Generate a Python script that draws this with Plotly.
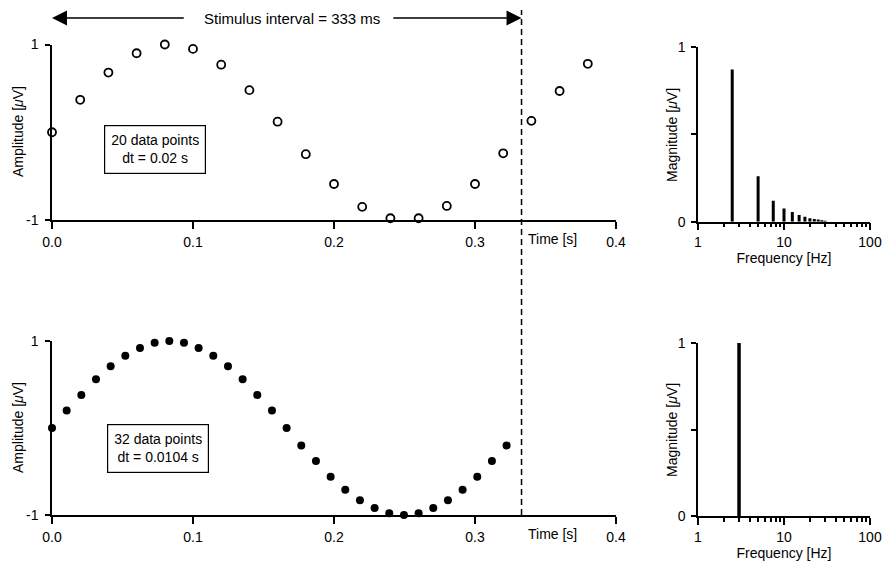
import plotly.graph_objects as go

# ---------------- data ----------------
t20 = [0.00, 0.02, 0.04, 0.06, 0.08, 0.10, 0.12, 0.14, 0.16, 0.18,
       0.20, 0.22, 0.24, 0.26, 0.28, 0.30, 0.32, 0.34, 0.36, 0.38]
amp20 = [0.00, 0.37, 0.68, 0.90, 1.00, 0.95, 0.77, 0.48, 0.12, -0.25,
         -0.59, -0.85, -0.98, -0.98, -0.84, -0.59, -0.24, 0.13, 0.47, 0.78]

t32 = [0.0, 0.0104, 0.0208, 0.0312, 0.0416, 0.052, 0.0624, 0.0728,
       0.0832, 0.0936, 0.104, 0.1144, 0.1248, 0.1352, 0.1456, 0.156,
       0.1664, 0.1768, 0.1872, 0.1976, 0.208, 0.2184, 0.2288, 0.2392,
       0.2496, 0.26, 0.2704, 0.2808, 0.2912, 0.3016, 0.312, 0.3224]
amp32 = [0.0, 0.2, 0.38, 0.56, 0.71, 0.83, 0.92, 0.98,
         1.0, 0.98, 0.92, 0.83, 0.71, 0.56, 0.38, 0.2,
         0.0, -0.2, -0.38, -0.56, -0.71, -0.83, -0.92, -0.98,
         -1.0, -0.98, -0.92, -0.83, -0.71, -0.56, -0.38, -0.2]

freq20 = [2.5, 5.0, 7.5, 10.0, 12.5, 15.0, 17.5, 20.0, 22.5, 25.0, 27.5, 30.0]
mag20 = [0.87, 0.26, 0.12, 0.075, 0.055, 0.038, 0.028, 0.02, 0.015, 0.012, 0.008, 0.006]

freq32 = [3.0]
mag32 = [1.0]

stimulus_interval = 0.333
time_ticks = [0.0, 0.1, 0.2, 0.3, 0.4]
time_ticklabels = ["0.0", "0.1", "0.2", "0.3", "0.4"]
freq_ticks = [1, 10, 100]
freq_minor = [2, 3, 4, 5, 6, 7, 8, 9, 20, 30, 40, 50, 60, 70, 80, 90]

# ---------------- geometry helpers ----------------
W, H = 885, 563
def fx(p):
    return p / W
def fy(p):
    return 1 - p / H

FONT = "Liberation Sans, Arial, Helvetica, sans-serif"
BLACK = "#000000"
FS = 14


def stems(freqs, mags):
    xs, ys = [], []
    for f, m in zip(freqs, mags):
        xs += [f, f, None]
        ys += [0, m, None]
    return xs, ys


fig = go.Figure()

fig.add_trace(go.Scatter(
    x=t20, y=amp20, mode="markers", xaxis="x", yaxis="y",
    marker=dict(symbol="circle-open", size=8, color=BLACK, line=dict(width=1.8, color=BLACK)),
    cliponaxis=False, showlegend=False, hoverinfo="skip"))

fig.add_trace(go.Scatter(
    x=t32, y=amp32, mode="markers", xaxis="x3", yaxis="y3",
    marker=dict(symbol="circle", size=8, color=BLACK),
    cliponaxis=False, showlegend=False, hoverinfo="skip"))

sx, sy = stems(freq20, mag20)
fig.add_trace(go.Scatter(
    x=sx, y=sy, mode="lines", xaxis="x2", yaxis="y2",
    line=dict(color=BLACK, width=3), cliponaxis=False, showlegend=False, hoverinfo="skip"))

sx, sy = stems(freq32, mag32)
fig.add_trace(go.Scatter(
    x=sx, y=sy, mode="lines", xaxis="x4", yaxis="y4",
    line=dict(color=BLACK, width=3.5), cliponaxis=False, showlegend=False, hoverinfo="skip"))

tickfont = dict(family=FONT, size=FS, color=BLACK)

common = dict(showline=True, linecolor=BLACK, linewidth=1.5, showgrid=False,
              zeroline=False, automargin=False, tickfont=tickfont, tickcolor=BLACK,
              tickwidth=1.5, ticks="outside")

time_axis = dict(range=[0, 0.4], tickvals=time_ticks, ticktext=time_ticklabels,
                 ticklen=7, ticklabelstandoff=1, **common)
amp_axis = dict(range=[-1, 1], tickvals=[-1, 1], ticktext=["-1", "1"],
                ticklen=5, ticklabelstandoff=4, **common)
freq_axis = dict(
    type="log", range=[0, 2], tickvals=freq_ticks, ticktext=["1", "10", "100"],
    ticklen=7,
    minor=dict(tickvals=freq_minor, ticks="outside", ticklen=4, tickwidth=1.5, tickcolor=BLACK, showgrid=False),
    title=dict(text="Frequency [Hz]", font=dict(family=FONT, size=FS, color=BLACK), standoff=0),
    **common)
mag_axis = dict(range=[0, 1], tickvals=[0, 0.5, 1], ticktext=["0", "", "1"],
                ticklen=5, ticklabelstandoff=3, **common)

fig.update_layout(
    width=W, height=H,
    margin=dict(l=0, r=0, t=0, b=0),
    paper_bgcolor="white", plot_bgcolor="white",
    font=dict(family=FONT, size=FS, color=BLACK),
    showlegend=False,
    xaxis=dict(domain=[fx(52), fx(616)], anchor="y", **time_axis),
    yaxis=dict(domain=[fy(220), fy(44.5)], anchor="x", **amp_axis),
    xaxis3=dict(domain=[fx(52), fx(616)], anchor="y3", **time_axis),
    yaxis3=dict(domain=[fy(515), fy(341)], anchor="x3", **amp_axis),
    xaxis2=dict(domain=[fx(698), fx(870)], anchor="y2", **freq_axis),
    yaxis2=dict(domain=[fy(221.7), fy(46.7)], anchor="x2", **mag_axis),
    xaxis4=dict(domain=[fx(698), fx(870)], anchor="y4", **freq_axis),
    yaxis4=dict(domain=[fy(516), fy(343)], anchor="x4", **mag_axis),
)

fig.add_shape(type="line", xref="x", yref="paper",
              x0=stimulus_interval, x1=stimulus_interval, y0=fy(515), y1=fy(10),
              line=dict(color=BLACK, width=1.5, dash="6px,4px"))

annos = []
ARROW_Y = fy(18)
annos.append(dict(x=0.170, y=ARROW_Y, xref="x", yref="paper", text="Stimulus interval = 333 ms",
                  showarrow=False, font=dict(family=FONT, size=15, color=BLACK),
                  xanchor="center", yanchor="middle"))
annos.append(dict(x=0.0, y=ARROW_Y, xref="x", yref="paper", ax=0.0945, ay=0,
                  axref="x", ayref="pixel", text="", showarrow=True,
                  arrowhead=2, arrowsize=2.0, arrowwidth=1.5, arrowcolor=BLACK, standoff=0))
annos.append(dict(x=stimulus_interval, y=ARROW_Y, xref="x", yref="paper", ax=0.241, ay=0,
                  axref="x", ayref="pixel", text="", showarrow=True,
                  arrowhead=2, arrowsize=2.0, arrowwidth=1.5, arrowcolor=BLACK, standoff=0))

annos.append(dict(x=0.073, y=-0.2, xref="x", yref="y", text="20 data points<br>dt = 0.02 s",
                  showarrow=False, bordercolor=BLACK, borderwidth=1.2, borderpad=6, bgcolor="white",
                  xanchor="center", yanchor="middle",
                  font=dict(family=FONT, size=FS, color=BLACK)))
annos.append(dict(x=0.075, y=-0.23, xref="x3", yref="y3", text="32 data points<br>dt = 0.0104 s",
                  showarrow=False, bordercolor=BLACK, borderwidth=1.2, borderpad=6, bgcolor="white",
                  xanchor="center", yanchor="middle",
                  font=dict(family=FONT, size=FS, color=BLACK)))

for xr, yr in (("x", "y"), ("x3", "y3")):
    annos.append(dict(x=0.355, y=-1, xref=xr, yref=yr, text="Time [s]", showarrow=False,
                      xanchor="center", yanchor="top", yshift=-9,
                      font=dict(family=FONT, size=FS, color=BLACK)))

for yc in (132, 428):
    annos.append(dict(x=fx(18), y=fy(yc), xref="paper", yref="paper", text="Amplitude [<i>μ</i>V]",
                      textangle=-90, showarrow=False, xanchor="center", yanchor="middle",
                      font=dict(family=FONT, size=FS, color=BLACK)))
for yc in (135, 430):
    annos.append(dict(x=fx(672), y=fy(yc), xref="paper", yref="paper", text="Magnitude [<i>μ</i>V]",
                      textangle=-90, showarrow=False, xanchor="center", yanchor="middle",
                      font=dict(family=FONT, size=FS, color=BLACK)))

fig.update_layout(annotations=annos)

fig.write_html(
    "out.html",
    config={"displayModeBar": False},
    post_script="document.body.style.margin='0';document.body.style.overflow='hidden';",
)
